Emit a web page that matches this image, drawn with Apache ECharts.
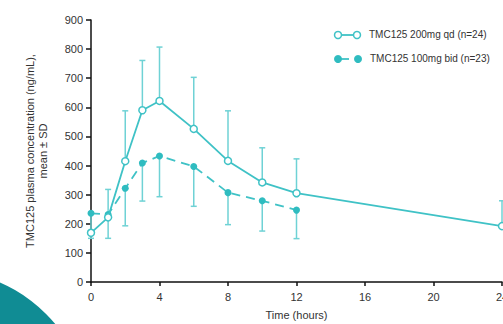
<!DOCTYPE html>
<html><head><meta charset="utf-8">
<script src="https://cdn.jsdelivr.net/npm/echarts@6/dist/echarts.min.js"></script>
<style>html,body{margin:0;padding:0;background:#fff}#c{width:503px;height:324px}</style>
</head><body><div id="c"></div>
<script>
const hours = [0, 1, 2, 3, 4, 6, 8, 10, 12, 24];
const qdName = 'TMC125 200mg qd (n=24)';
const qdMean = [169, 222, 415, 590, 622, 526, 416, 342, 305, 192];
const qdSD   = [0, 96, 173, 171, 185, 177, 172, 119, 118, 87];
const bidHours = [0, 1, 2, 3, 4, 6, 8, 10, 12];
const bidName = 'TMC125 100mg bid (n=23)';
const bidMean = [236, 232, 322, 409, 433, 397, 307, 279, 247];
const bidSD   = [86, 82, 129, 131, 140, 137, 110, 104, 98];
const yTicks = [0, 100, 200, 300, 400, 500, 600, 700, 800, 900];
const xTicks = [0, 4, 8, 12, 16, 20, 24];

const teal = '#3fc2c6';
const errColor = '#6fd2d5';

function errSeries(xs, means, sds, dir) {
  return {
    type: 'custom', z: 1, silent: true,
    data: xs.map((x, i) => [x, means[i], means[i] + dir * sds[i]]),
    renderItem: function (params, api) {
      const p0 = api.coord([api.value(0), api.value(1)]);
      const p1 = api.coord([api.value(0), api.value(2)]);
      const s = { stroke: errColor, lineWidth: 1.5 };
      return { type: 'group', children: [
        { type: 'line', shape: { x1: p0[0], y1: p0[1], x2: p1[0], y2: p1[1] }, style: s },
        { type: 'line', shape: { x1: p1[0] - 3, y1: p1[1], x2: p1[0] + 3, y2: p1[1] }, style: s }
      ]};
    }
  };
}

const chart = echarts.init(document.getElementById('c'), null, { renderer: 'svg' });
chart.setOption({
  animation: false,
  textStyle: { fontFamily: 'Liberation Sans, Arial, sans-serif' },
  grid: { left: 91, right: 1, top: 20, bottom: 42, outerBoundsMode: 'none', containLabel: false },
  xAxis: {
    type: 'value', min: 0, max: 24, interval: 4,
    name: 'Time (hours)', nameLocation: 'middle', nameGap: 27,
    nameTextStyle: { color: '#333', fontSize: 11 },
    axisLine: { lineStyle: { color: '#111', width: 1.5 } },
    axisTick: { show: true, length: 4, lineStyle: { color: '#111', width: 1.5 } },
    axisLabel: { color: '#333', fontSize: 11, margin: 9, formatter: v => xTicks.includes(v) ? String(v) : '' },
    splitLine: { show: false }
  },
  yAxis: {
    type: 'value', min: 0, max: 900, interval: 100,
    name: 'TMC125 plasma concentration (ng/mL),\nmean ± SD', nameLocation: 'middle', nameGap: 42,
    nameTextStyle: { color: '#333', fontSize: 11, lineHeight: 13 },
    axisLine: { show: true, lineStyle: { color: '#111', width: 1.5 } },
    axisTick: { show: true, length: 5, lineStyle: { color: '#111', width: 1.5 } },
    axisLabel: { color: '#333', fontSize: 11, margin: 8, formatter: v => yTicks.includes(v) ? String(v) : '' },
    splitLine: { show: false }
  },
  series: [
    errSeries(hours, qdMean, qdSD, 1),
    errSeries(bidHours, bidMean, bidSD, -1),
    {
      name: qdName, type: 'line', z: 3,
      data: hours.map((h, i) => [h, qdMean[i]]),
      symbol: 'circle', symbolSize: 7,
      itemStyle: { color: '#fff', borderColor: teal, borderWidth: 1.5 },
      lineStyle: { color: teal, width: 1.8 }
    },
    {
      name: bidName, type: 'line', z: 2,
      data: bidHours.map((h, i) => [h, bidMean[i]]),
      symbol: 'circle', symbolSize: 7,
      itemStyle: { color: '#2fbcc0' },
      lineStyle: { color: teal, width: 1.8, type: [9, 6] }
    }
  ],
  graphic: [
    { type: 'circle', shape: { cx: -60, cy: 420, r: 150 }, style: { fill: '#108c94' }, z: -1 },
    { type: 'line', shape: { x1: 339, y1: 35, x2: 355, y2: 35 }, style: { stroke: teal, lineWidth: 1.8 } },
    { type: 'circle', shape: { cx: 338, cy: 35, r: 3.5 }, style: { fill: '#fff', stroke: teal, lineWidth: 1.5 } },
    { type: 'circle', shape: { cx: 357, cy: 35, r: 3.5 }, style: { fill: '#fff', stroke: teal, lineWidth: 1.5 } },
    { type: 'text', left: 369, top: 29, style: { text: qdName, fill: '#333', fontSize: 10, fontFamily: 'Liberation Sans, Arial, sans-serif' } },
    { type: 'line', shape: { x1: 338, y1: 59, x2: 349, y2: 59 }, style: { stroke: teal, lineWidth: 1.8 } },
    { type: 'circle', shape: { cx: 338, cy: 59, r: 4 }, style: { fill: '#2fbcc0' } },
    { type: 'circle', shape: { cx: 358, cy: 59, r: 4 }, style: { fill: '#2fbcc0' } },
    { type: 'text', left: 370, top: 53, style: { text: bidName, fill: '#333', fontSize: 10, fontFamily: 'Liberation Sans, Arial, sans-serif' } }
  ]
});
</script></body></html>
